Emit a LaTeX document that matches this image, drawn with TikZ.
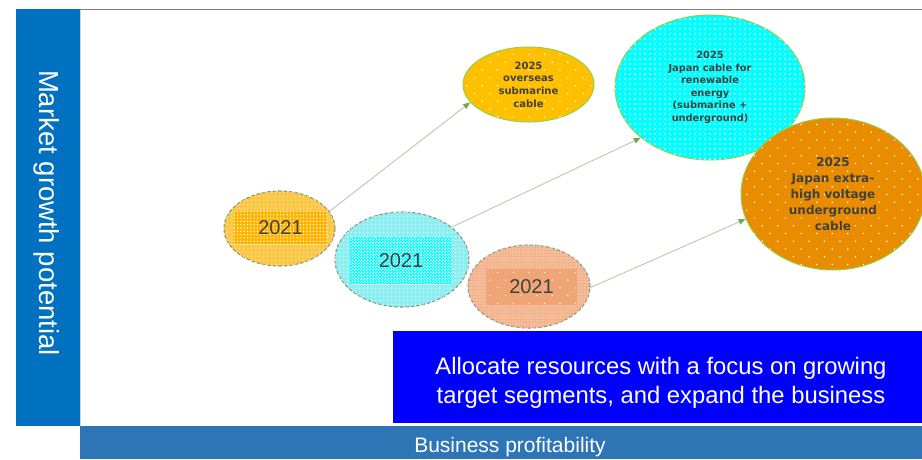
\documentclass[tikz,border=0pt]{standalone}
\usepackage{fontspec}
\setmainfont{Liberation Sans}
\newfontfamily\labelfont{DejaVu Sans}
\usetikzlibrary{shapes.geometric,patterns,patterns.meta,arrows.meta}

\definecolor{barblue}{RGB}{0,112,192}
\definecolor{bottomblue}{RGB}{46,117,182}
\definecolor{focusblue}{RGB}{0,0,255}
\definecolor{textgray}{RGB}{64,64,64}
\definecolor{edgegreen}{RGB}{146,208,80}
\definecolor{arrowline}{RGB}{190,200,172}
\definecolor{arrowgreen}{RGB}{118,165,82}
\definecolor{dashgray}{RGB}{140,152,122}
\definecolor{gold}{RGB}{255,192,0}
\definecolor{aqua}{RGB}{0,255,255}
\definecolor{deeporange}{RGB}{233,140,0}
\definecolor{paleyellow}{RGB}{250,200,70}
\definecolor{paleyellowlight}{RGB}{253,222,140}
\definecolor{innergold}{RGB}{255,180,0}
\definecolor{palecyan}{RGB}{140,238,240}
\definecolor{palecyanlight}{RGB}{200,248,250}
\definecolor{salmon}{RGB}{242,178,140}
\definecolor{salmonlight}{RGB}{248,205,180}
\definecolor{innersalmon}{RGB}{240,165,118}

% small checkerboard tile for the cyan label box
\pgfdeclarepatternformonly{finechecker}{\pgfpointorigin}{\pgfqpoint{3pt}{3pt}}{\pgfqpoint{3pt}{3pt}}{%
  \pgfpathrectangle{\pgfpointorigin}{\pgfqpoint{1.5pt}{1.5pt}}%
  \pgfpathrectangle{\pgfqpoint{1.5pt}{1.5pt}}{\pgfqpoint{1.5pt}{1.5pt}}%
  \pgfusepath{fill}}

\tikzset{
  pastellipse/.style={ellipse, draw=dashgray, dash pattern=on 3.5pt off 2pt,
    line width=1.1pt, inner sep=0pt},
  yearbox/.style={rectangle, inner sep=0pt, text=textgray,
    font=\fontsize{20}{24}\selectfont},
  futureellipse/.style={ellipse, draw=edgegreen, line width=1pt, inner sep=0pt,
    align=center, text=textgray},
  growth/.style={draw=arrowline, line width=0.9pt,
    -{Triangle[length=7pt,width=5.5pt,color=arrowgreen]}},
  whitetext/.style={text=white, inner sep=0pt},
}

\begin{document}
\begin{tikzpicture}[x=1pt,y=-1pt]
\useasboundingbox (0,0) rectangle (922,459);
\fill[white] (0,0) rectangle (922,459);

% axes
\fill[barblue] (16,9) rectangle (80,426);
\draw[gray!35, line width=0.6pt] (80,9.5) -- (80,426);
\draw[gray, line width=1.2pt] (80,9.5) -- (922,9.5);
\node[whitetext, rotate=-90, font=\fontsize{27.5}{32}\selectfont] (yaxis) at (47,213)
  {Market growth potential};
\fill[bottomblue] (80,426) rectangle (922,459);
\node[whitetext, font=\fontsize{21}{24}\selectfont] (xaxis) at (510,447)
  {Business profitability};

% strategy box
\fill[focusblue] (393,331) rectangle (922,423);
\node[whitetext, align=center, font=\fontsize{23.8}{29}\selectfont] (focus) at (661,383)
  {Allocate resources with a focus on growing\\target segments, and expand the business};

% 2021 segments
\node[pastellipse, minimum width=111pt, minimum height=75pt,
  fill=paleyellow, postaction={pattern={Dots[distance=4pt,radius=1.2pt]}, pattern color=paleyellowlight}]
  (y21) at (279.5,228.5) {};
\node[yearbox, minimum width=93pt, minimum height=33pt,
  fill=innergold, postaction={pattern={Dots[distance=3.3pt,radius=0.75pt]}, pattern color=white}]
  (y21t) at (280.5,227.5) {2021};

\node[pastellipse, minimum width=134pt, minimum height=95pt,
  fill=palecyan, postaction={pattern={Dots[distance=4pt,radius=1.2pt]}, pattern color=palecyanlight}]
  (c21) at (402,259.5) {};
\node[yearbox, minimum width=102pt, minimum height=47pt,
  fill=aqua, postaction={pattern=finechecker, pattern color=white}]
  (c21t) at (401,260.5) {2021};

\node[pastellipse, minimum width=122pt, minimum height=83pt,
  fill=salmon, postaction={pattern={Dots[distance=3pt,radius=0.8pt]}, pattern color=salmonlight}]
  (s21) at (529,286.5) {};
\node[yearbox, minimum width=91pt, minimum height=36pt,
  fill=innersalmon, postaction={pattern={Dots[distance=11pt,angle=45,radius=0.8pt]}, pattern color=white}]
  (s21t) at (531.5,287) {2021};

% 2025 targets
\node[futureellipse, minimum width=131pt, minimum height=75pt,
  fill=gold, postaction={pattern={Dots[distance=11pt,angle=45,radius=0.85pt]}, pattern color=white},
  font=\labelfont\bfseries\fontsize{10}{12.7}\selectfont]
  (o25) at (528.5,84.5) {2025\\overseas\\submarine\\cable};

\node[futureellipse, minimum width=190pt, minimum height=145pt,
  fill=aqua, postaction={pattern={Dots[distance=5pt,radius=0.8pt]}, pattern color=white},
  font=\labelfont\bfseries\fontsize{9.8}{12.6}\selectfont]
  (r25) at (710,87.5) {2025\\Japan cable for\\renewable\\energy\\(submarine +\\underground)};

\node[futureellipse, minimum width=184pt, minimum height=152pt,
  fill=deeporange, postaction={pattern={Dots[distance=11pt,angle=45,radius=0.85pt]}, pattern color=white},
  font=\labelfont\bfseries\fontsize{12}{16}\selectfont]
  (x25) at (833,194) {2025\\Japan extra-\\high voltage\\underground\\cable};

% growth paths
\draw[growth] (y21.19) -- (o25.197);
\draw[growth] (c21.33) -- (r25.216);
\draw[growth] (s21.359) -- (x25.196);
\end{tikzpicture}
\end{document}
